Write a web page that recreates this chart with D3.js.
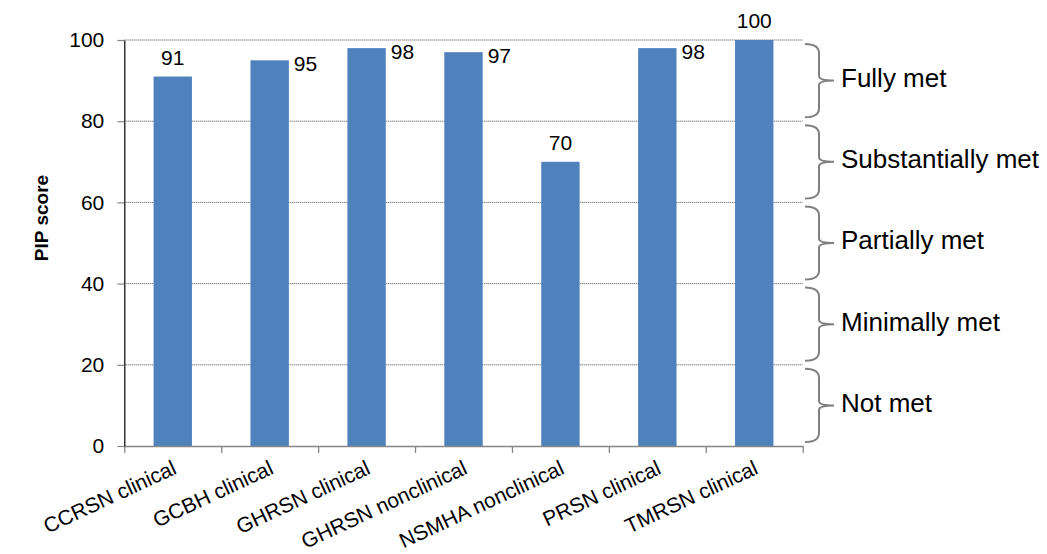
<!DOCTYPE html>
<html>
<head>
<meta charset="utf-8">
<script src="https://cdn.jsdelivr.net/npm/d3@7"></script>
<style>
  body { margin: 0; background: #fff; }
  text { font-family: "Liberation Sans", Arial, sans-serif; fill: #000; }
</style>
</head>
<body>
<svg id="chart" width="1047" height="554"></svg>
<script>
/// data
var categories = ["CCRSN clinical", "GCBH clinical", "GHRSN clinical",
                  "GHRSN nonclinical", "NSMHA nonclinical", "PRSN clinical",
                  "TMRSN clinical"];
var scores = [91, 95, 98, 97, 70, 98, 100];
var yTicks = [0, 20, 40, 60, 80, 100];
var levelNames = ["Not met", "Minimally met", "Partially met",
                  "Substantially met", "Fully met"];
var levelLow = [0, 20, 40, 60, 80];
var levelHigh = [20, 40, 60, 80, 100];

/// where each value label was put (above the bar or beside it)
var labelSide = ["top", "right", "right", "right", "top", "right", "top"];

/// dimensions
var plot = {left: 124.3, right: 802.7, top: 40, bottom: 446};
var barShare = 0.396;

var svg = d3.select("#chart");

var x = d3.scaleBand()
          .domain(categories)
          .range([plot.left, plot.right])
          .padding(0);

var xEdge = d3.scaleLinear()
              .domain([0, categories.length])
              .range([plot.left, plot.right]);

var y = d3.scaleLinear()
          .domain([0, 100])
          .range([plot.bottom, plot.top]);

var barW = x.bandwidth() * barShare;

// dotted gridlines
svg.append("g")
   .selectAll("line")
   .data(yTicks.filter(d => d > 0))
   .enter()
   .append("line")
   .attr("x1", plot.left)
   .attr("x2", plot.right)
   .attr("y1", d => y(d))
   .attr("y2", d => y(d))
   .attr("stroke", "#4a4a4a")
   .attr("stroke-width", 1)
   .attr("stroke-dasharray", "1 1");

// bars
svg.append("g")
   .selectAll("rect")
   .data(scores)
   .enter()
   .append("rect")
   .attr("x", (d, i) => x(categories[i]) + (x.bandwidth() - barW) / 2)
   .attr("y", d => y(d))
   .attr("width", barW)
   .attr("height", d => y(0) - y(d))
   .attr("fill", "#4f81bd");

// x axis (ticks between categories)
var xAxis = svg.append("g")
               .attr("transform", "translate(0," + plot.bottom + ")")
               .call(d3.axisBottom(xEdge)
                       .tickValues(d3.range(categories.length + 1))
                       .tickFormat("")
                       .tickSize(7)
                       .tickSizeOuter(0));
xAxis.selectAll("path, line").attr("stroke", "#868686").attr("stroke-width", 1.3);

// y axis
var yAxis = svg.append("g")
               .attr("transform", "translate(" + plot.left + ",0)")
               .call(d3.axisLeft(y)
                       .tickValues(yTicks)
                       .tickSize(7)
                       .tickSizeOuter(0)
                       .tickPadding(13));
yAxis.select(".domain").attr("stroke", "#000").attr("stroke-width", 1.2);
yAxis.selectAll(".tick line").attr("stroke", "#868686").attr("stroke-width", 1.2);
yAxis.selectAll(".tick text")
     .style("font-size", "21px")
     .style("font-family", "'Liberation Sans', Arial, sans-serif")
     .attr("fill", "#000");

// category labels
svg.append("g")
   .selectAll("text")
   .data(categories)
   .enter()
   .append("text")
   .attr("transform", d => "translate(" + (x(d) + x.bandwidth() / 2 + 5) + ",473) rotate(-25)")
   .attr("text-anchor", "end")
   .style("font-size", "21px")
   .text(d => d);

// value labels
svg.append("g")
   .selectAll("text")
   .data(scores)
   .enter()
   .append("text")
   .attr("x", (d, i) => labelSide[i] === "top"
                        ? x(categories[i]) + x.bandwidth() / 2
                        : x(categories[i]) + (x.bandwidth() + barW) / 2 + 5)
   .attr("y", (d, i) => labelSide[i] === "top" ? y(d) - 12 : y(d) + 11)
   .attr("text-anchor", (d, i) => labelSide[i] === "top" ? "middle" : "start")
   .style("font-size", "21px")
   .text(d => d);

// y title
svg.append("text")
   .attr("transform", "translate(48,218) rotate(-90)")
   .attr("text-anchor", "middle")
   .style("font-size", "19px")
   .style("font-weight", "bold")
   .text("PIP score");

// braces for score levels
var bx0 = 805, bx1 = 819, bx2 = 834, br = 9, inset = 4;

function bracePath(lo, hi) {
  var top = y(hi) + inset, bot = y(lo) - inset, mid = (top + bot) / 2;
  return "M" + bx0 + "," + top +
         " Q" + bx1 + "," + top + " " + bx1 + "," + (top + br) +
         " L" + bx1 + "," + (mid - br / 2) +
         " Q" + bx1 + "," + mid + " " + bx2 + "," + mid +
         " Q" + bx1 + "," + mid + " " + bx1 + "," + (mid + br / 2) +
         " L" + bx1 + "," + (bot - br) +
         " Q" + bx1 + "," + bot + " " + bx0 + "," + bot;
}

var braces = svg.append("g");

braces.selectAll("path")
      .data(levelNames)
      .enter()
      .append("path")
      .attr("d", (d, i) => bracePath(levelLow[i], levelHigh[i]))
      .attr("fill", "none")
      .attr("stroke", "#808080")
      .attr("stroke-width", 2);

braces.selectAll("text")
      .data(levelNames)
      .enter()
      .append("text")
      .attr("x", 841)
      .attr("y", (d, i) => (y(levelLow[i]) + y(levelHigh[i])) / 2 - 3)
      .attr("dy", "0.36em")
      .style("font-size", "26px")
      .text(d => d);
</script>
</body>
</html>
